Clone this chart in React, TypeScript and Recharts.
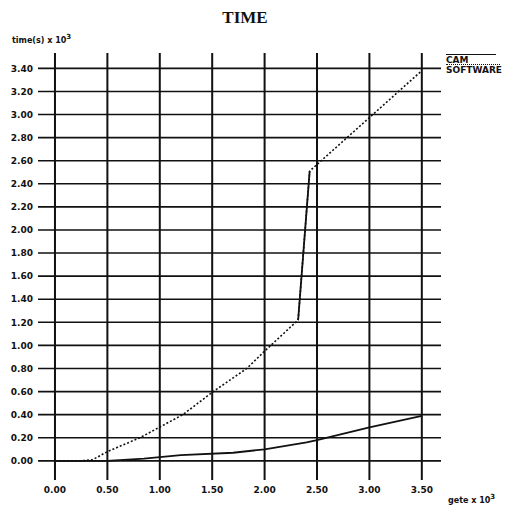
import React from 'react';
import { LineChart, Line, XAxis, YAxis, ReferenceLine } from 'recharts';

// SOFTWARE (dotted) series, x in gete x 10^3, y in time(s) x 10^3
const softwareX = [0, 0.25, 0.36, 0.5, 0.81, 1.22, 1.51, 1.83, 2.0, 2.32, 2.43, 3.5];
const softwareY = [0, 0, 0.01, 0.08, 0.2, 0.4, 0.6, 0.8, 0.95, 1.22, 2.51, 3.38];

// CAM (solid) series
const camX = [0, 0.5, 0.85, 1.2, 1.7, 2.0, 2.4, 2.5, 3.0, 3.5];
const camY = [0, 0, 0.02, 0.05, 0.07, 0.1, 0.16, 0.18, 0.29, 0.39];

const xTicks = [0, 0.5, 1.0, 1.5, 2.0, 2.5, 3.0, 3.5];
const yTicks = [0, 0.2, 0.4, 0.6, 0.8, 1.0, 1.2, 1.4, 1.6, 1.8, 2.0, 2.2, 2.4, 2.6, 2.8, 3.0, 3.2, 3.4];

const softwareData = softwareX.map((x, i) => ({ x, y: softwareY[i] }));
const camData = camX.map((x, i) => ({ x, y: camY[i] }));
// the steep jump of the software curve is printed as a solid stroke
const jumpData = softwareData.slice(9, 11);

const tickFont = { fontSize: 9, fontWeight: 700, fill: '#111', fontFamily: '"DejaVu Sans", sans-serif' };

const labelStyle: React.CSSProperties = {
  position: 'absolute',
  fontFamily: '"DejaVu Sans", sans-serif',
  fontWeight: 700,
  fontSize: 8,
  color: '#111',
  whiteSpace: 'nowrap',
  lineHeight: 1,
};

export default function App() {
  return (
    <div style={{ position: 'absolute', left: 0, top: 0, width: 510, height: 516, background: '#fff' }}>
      <div style={{
        position: 'absolute', left: 0, width: 490, top: 9, textAlign: 'center',
        fontFamily: '"Liberation Serif", serif', fontWeight: 700, fontSize: 17, color: '#111', lineHeight: 1,
      }}>
        TIME
      </div>
      <div style={{ ...labelStyle, left: 12, top: 34 }}>
        time(s) x 10<sup style={{ fontSize: 7 }}>3</sup>
      </div>
      <div style={{ ...labelStyle, left: 448, top: 494 }}>
        gete x 10<sup style={{ fontSize: 7 }}>3</sup>
      </div>

      {/* legend */}
      <div style={{ position: 'absolute', left: 446, top: 54, width: 50, borderTop: '1.5px solid #111' }} />
      <div style={{ ...labelStyle, fontSize: 9, left: 446, top: 56 }}>CAM</div>
      <div style={{ position: 'absolute', left: 446, top: 64, width: 54, borderTop: '1.5px dotted #111' }} />
      <div style={{ ...labelStyle, fontSize: 9, left: 446, top: 66 }}>SOFTWARE</div>

      <LineChart width={510} height={516} margin={{ top: 53, right: 69, bottom: 18, left: 0 }}>
        <XAxis
          type="number"
          dataKey="x"
          domain={[-0.162, 3.683]}
          ticks={xTicks}
          tickFormatter={(v: number) => v.toFixed(2)}
          axisLine={false}
          tickLine={false}
          tickSize={0}
          tickMargin={7}
          height={18}
          tick={tickFont}
          interval={0}
          allowDataOverflow
        />
        <YAxis
          type="number"
          dataKey="y"
          domain={[-0.166, 3.533]}
          ticks={yTicks}
          tickFormatter={(v: number) => v.toFixed(2)}
          axisLine={false}
          tickLine={false}
          tickSize={0}
          tickMargin={5}
          width={38}
          tick={tickFont}
          interval={0}
          allowDataOverflow
        />
        {yTicks.map((t) => (
          <ReferenceLine key={`h-${t}`} y={t} stroke="#111" strokeWidth={1.6} />
        ))}
        {xTicks.map((t) => (
          <ReferenceLine key={`v-${t}`} x={t} stroke="#111" strokeWidth={2} />
        ))}
        <Line
          data={camData}
          dataKey="y"
          type="linear"
          stroke="#111"
          strokeWidth={1.8}
          dot={false}
          isAnimationActive={false}
        />
        <Line
          data={softwareData}
          dataKey="y"
          type="linear"
          stroke="#111"
          strokeWidth={1.6}
          strokeDasharray="2 2"
          dot={false}
          isAnimationActive={false}
        />
        <Line
          data={jumpData}
          dataKey="y"
          type="linear"
          stroke="#111"
          strokeWidth={1.8}
          dot={false}
          isAnimationActive={false}
        />
      </LineChart>
    </div>
  );
}
